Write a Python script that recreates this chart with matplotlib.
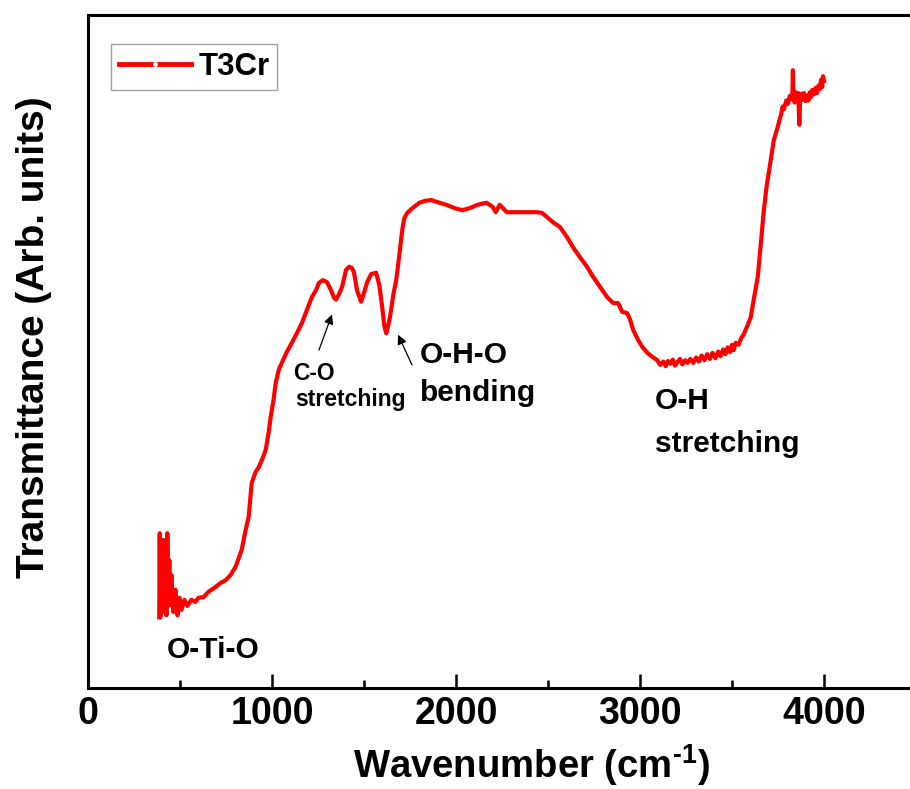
import matplotlib
matplotlib.use("Agg")
import matplotlib.pyplot as plt
from matplotlib import font_manager
from matplotlib.lines import Line2D

# ---------------- data ----------------
wavenumber = [
    387, 390, 393, 398, 404, 409, 415, 420, 426, 431, 437, 442, 447, 453, 464, 475, 486, 497, 508, 524,
    540, 562, 584, 600, 628, 655, 693, 720, 748, 775, 802, 835, 857, 873, 890, 911, 928, 950, 966, 982,
    993, 1010, 1020, 1037, 1053, 1080, 1108, 1135, 1162, 1190, 1217, 1239, 1255, 1277, 1299, 1321, 1337, 1348, 1364, 1381,
    1402, 1419, 1435, 1446, 1462, 1484, 1501, 1517, 1539, 1566, 1583, 1599, 1610, 1621, 1632, 1643, 1659, 1675, 1692, 1708,
    1719, 1735, 1763, 1801, 1834, 1866, 1910, 1948, 1992, 2035, 2074, 2117, 2166, 2199, 2216, 2237, 2259, 2276, 2319, 2374,
    2439, 2467, 2494, 2527, 2565, 2603, 2636, 2674, 2712, 2745, 2783, 2821, 2854, 2881, 2903, 2930, 2947, 2963, 2990, 3012,
    3040, 3067, 3094, 3110, 3127, 3140, 3152, 3165, 3178, 3190, 3203, 3218, 3230, 3245, 3258, 3274, 3290, 3305, 3320, 3335,
    3350, 3365, 3380, 3394, 3410, 3425, 3438, 3452, 3465, 3476, 3490, 3500, 3509, 3520, 3536, 3550, 3563, 3585, 3602, 3618,
    3640, 3656, 3673, 3689, 3711, 3727, 3749, 3760, 3766, 3775, 3782, 3795, 3804, 3815, 3820, 3828, 3831, 3834, 3840, 3847,
    3853, 3860, 3866, 3870, 3878, 3885, 3891, 3900, 3908, 3916, 3922, 3929, 3937, 3946, 3955, 3962, 3970, 3978, 3984, 3990,
    3995, 4000,
]
transmittance = [
    10.5, 23.0, 10.5, 19.0, 11.3, 22.0, 13.1, 21.2, 10.8, 23.0, 14.6, 19.0, 12.3, 16.8, 11.3, 14.6, 10.8, 13.4, 11.6, 13.1,
    12.2, 13.1, 12.8, 13.4, 13.5, 14.3, 15.0, 15.6, 16.0, 16.8, 18.0, 20.5, 23.5, 25.4, 30.5, 32.1, 32.8, 34.2, 35.4, 38.0,
    40.3, 43.1, 45.3, 47.3, 48.3, 49.9, 51.3, 52.7, 54.2, 56.2, 58.1, 59.1, 60.2, 60.6, 60.3, 59.1, 58.0, 57.7, 58.5, 59.6,
    62.1, 62.6, 62.4, 61.7, 59.1, 57.4, 58.8, 60.3, 61.5, 61.7, 59.9, 56.6, 53.9, 52.7, 53.9, 55.4, 58.4, 60.6, 64.3, 68.1,
    69.8, 70.6, 71.3, 72.1, 72.4, 72.5, 72.1, 71.8, 71.3, 71.0, 71.3, 71.8, 72.1, 71.5, 70.7, 71.8, 71.2, 70.7, 70.7, 70.7,
    70.7, 70.6, 70.0, 69.2, 68.5, 67.0, 65.5, 64.0, 62.6, 61.1, 59.6, 58.1, 57.2, 57.2, 55.9, 55.7, 54.7, 53.2, 51.7, 50.7,
    49.8, 49.2, 48.7, 48.0, 48.5, 47.8, 48.6, 48.2, 48.8, 47.9, 48.4, 48.9, 48.1, 48.7, 48.3, 48.9, 48.3, 49.1, 48.5, 49.4,
    48.7, 49.6, 48.9, 49.8, 49.0, 50.0, 49.3, 50.3, 49.6, 50.6, 49.9, 51.0, 50.2, 51.3, 51.0, 52.0, 52.5, 53.9, 55.1, 57.7,
    61.1, 65.8, 71.0, 74.7, 78.5, 81.4, 83.4, 84.6, 85.1, 86.4, 86.0, 87.3, 86.8, 88.0, 87.5, 87.9, 91.8, 88.2, 87.0, 88.5,
    87.6, 88.4, 83.7, 87.2, 88.3, 87.4, 88.4, 87.2, 88.0, 87.3, 88.5, 87.8, 88.9, 88.2, 89.2, 88.4, 89.5, 89.0, 90.4, 89.3,
    90.9, 90.2,
]
series_label = "T3Cr"
x_ticks = [0, 1000, 2000, 3000, 4000]
x_label = "Wavenumber (cm$^{\\mathregular{\u2010}1}$)"
y_label = "Transmittance (Arb. units)"

# annotations: text, x, baseline y, fontsize
annot_texts = ["O-Ti-O", "C-O", "stretching", "O-H-O", "bending", "O-H", "stretching"]
annot_x = [429, 1114, 1125, 1804, 1804, 3082, 3082]
annot_y = [4.5, 45.8, 41.9, 48.3, 42.6, 41.5, 35.1]
annot_size = [21.5, 16.5, 16.5, 21.5, 21.5, 21.5, 21.5]
arrow_tail = [(1255, 50.2), (1761, 48.0)]
arrow_tip = [(1326, 55.5), (1685, 52.5)]

regular = "Liberation Sans"
plt.rcParams["font.family"] = [regular, "DejaVu Sans"]
plt.rcParams["mathtext.fontset"] = "custom"
plt.rcParams["mathtext.rm"] = regular + ":bold"
plt.rcParams["mathtext.it"] = regular + ":bold"
plt.rcParams["mathtext.bf"] = regular + ":bold"

W, H = 910, 789
fig = plt.figure(figsize=(W / 100, H / 100), dpi=100)
ax = fig.add_axes([88 / W, 1 - 688 / H, 828 / W, 673 / H])

ax.plot(wavenumber, transmittance, color="#ff0000", lw=3.0, solid_joinstyle="round")

ax.set_xlim(0, 4500)
ax.set_ylim(0, 100)
ax.set_xticks(x_ticks)
ax.set_xticks([500, 1500, 2500, 3500], minor=True)
ax.set_yticks([])
for s in ax.spines.values():
    s.set_linewidth(2.2)
ax.tick_params(axis="x", which="major", direction="in", length=10, width=1.8, pad=6)
ax.tick_params(axis="x", which="minor", direction="in", length=6, width=1.8)
for lab in ax.get_xticklabels():
    lab.set_fontweight("bold")
    lab.set_fontsize(27)

ax.set_xlabel(x_label, fontsize=27.5, fontweight="bold")
ax.xaxis.set_label_coords(0.535, -0.080)
ax.set_ylabel(y_label, fontsize=28, fontweight="bold")
ax.yaxis.set_label_coords(-0.043, 0.5216)

for t, x, y, fs in zip(annot_texts, annot_x, annot_y, annot_size):
    ax.text(x, y, t, fontsize=fs, fontweight="bold", ha="left", va="baseline")
for tail, tip in zip(arrow_tail, arrow_tip):
    ax.annotate("", xy=tip, xytext=tail,
                arrowprops=dict(arrowstyle="-|>", lw=0.9, color="black", mutation_scale=14,
                                shrinkA=0, shrinkB=0))

handle = Line2D([], [], color="#ff0000", lw=3.5, marker="o", ms=2.5, mfc="white", mec="white")
leg = ax.legend([handle], [series_label], loc="upper left", bbox_to_anchor=(0.0278, 0.957),
                borderaxespad=0, frameon=True, fancybox=False, handlelength=2.3, handletextpad=0.25,
                borderpad=0.25, prop=font_manager.FontProperties(family=regular, weight="bold", size=22.5))
leg.get_frame().set_edgecolor("#888888")
leg.get_frame().set_linewidth(1.0)

fig.savefig("out.png", dpi=100)
